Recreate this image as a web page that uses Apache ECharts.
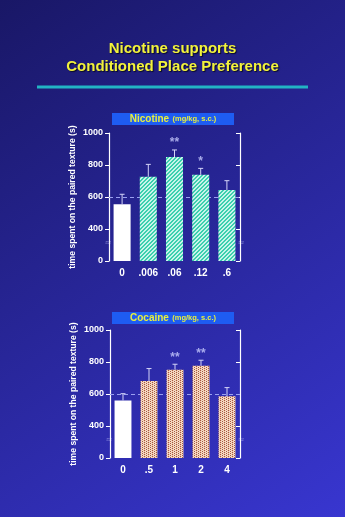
<!DOCTYPE html>
<html><head><meta charset="utf-8">
<script src="https://cdn.jsdelivr.net/npm/echarts@6/dist/echarts.min.js"></script>
<style>html,body{margin:0;padding:0;width:345px;height:517px;overflow:hidden}#c{width:345px;height:517px}</style>
</head><body><div id="c"></div>
<script>
// ---- data ----
const nicDoses = ['0', '.006', '.06', '.12', '.6'];
const nicMeans = [554, 727, 850, 739, 644];
const nicErrTop = [617, 804, 894, 779, 702];
const nicStars = ['', '', '**', '*', ''];
const cocDoses = ['0', '.5', '1', '2', '4'];
const cocMeans = [560, 681, 752, 777, 586];
const cocErrTop = [602, 759, 786, 811, 640];
const cocStars = ['', '', '**', '**', ''];
const yTickLabels = ['0', '400', '600', '800', '1000'];
const chanceLevel = 600;

// broken axis: 0..400 compressed into one tick step
function f(v) { return v >= 400 ? v : 200 + v / 2; }
function inv(v) { return v < 400 ? (v - 200) * 2 : v; }

function makePattern(kind) {
  const c = document.createElement('canvas');
  const n = 4; c.width = n; c.height = n;
  const ctx = c.getContext('2d');
  for (let x = 0; x < n; x++) for (let y = 0; y < n; y++) {
    let col;
    if (kind === 'hatch') col = ((x + y) % 4 < 2) ? '#3ccfae' : '#c8f4ea';
    else col = ((x % 2 === 0) && ((y + (x % 4 === 0 ? 0 : 1)) % 2 === 0)) ? '#a8563e' : ((x + y) % 2 === 0 ? '#f6e0cc' : '#eec8ae');
    ctx.fillStyle = col; ctx.fillRect(x, y, 1, 1);
  }
  return { image: c, repeat: 'repeat' };
}

const chart = echarts.init(document.getElementById('c'), null, { renderer: 'canvas' });

const grids = [
  { left: 109, top: 133, width: 131, height: 128 },
  { left: 110, top: 330, width: 130, height: 128 }
];
const panels = [
  { doses: nicDoses, means: nicMeans, err: nicErrTop, stars: nicStars, pat: makePattern('hatch'), title: 'Nicotine', boxY: 113 },
  { doses: cocDoses, means: cocMeans, err: cocErrTop, stars: cocStars, pat: makePattern('dots'), title: 'Cocaine', boxY: 312 }
];

const xAxis = [], yAxis = [], series = [];
const axisCol = '#ffffff';
panels.forEach((p, i) => {
  xAxis.push({
    type: 'category', gridIndex: i, data: p.doses,
    axisLine: { show: false }, axisTick: { show: false },
    axisLabel: { color: '#ffffff', fontWeight: 'bold', fontSize: 10, margin: 7, fontFamily: 'Liberation Sans, Arial' }
  });
  yAxis.push({
    type: 'value', gridIndex: i, min: f(0), max: 1000, interval: 200,
    name: 'time spent on the paired texture (s)', nameLocation: 'middle', nameGap: 32,
    nameTextStyle: { color: '#ffffff', fontWeight: 'bold', fontSize: 8.6, fontFamily: 'Liberation Sans, Arial' },
    axisLine: { show: true, lineStyle: { color: axisCol, width: 1.2 } },
    axisTick: { show: true, length: 4, lineStyle: { color: axisCol } },
    splitLine: { show: false },
    axisLabel: {
      color: '#ffffff', fontWeight: 'bold', fontSize: 9, margin: 6, fontFamily: 'Liberation Sans, Arial',
      formatter: v => yTickLabels[[0, 400, 600, 800, 1000].indexOf(inv(v))] || ''
    }
  });
  yAxis.push({
    type: 'value', gridIndex: i, min: f(0), max: 1000, interval: 200, position: 'right',
    axisLine: { show: true, lineStyle: { color: axisCol, width: 1.2 } },
    axisTick: { show: true, inside: true, length: 4, lineStyle: { color: axisCol } },
    splitLine: { show: false }, axisLabel: { show: false }
  });
  series.push({
    type: 'line', xAxisIndex: i, yAxisIndex: 2 * i, data: [], z: 1,
    markLine: {
      silent: true, symbol: 'none', label: { show: false }, z: 1,
      lineStyle: { color: '#9aa0f0', type: [4, 3], width: 1 },
      data: [{ yAxis: f(chanceLevel) }]
    }
  });
  series.push({
    type: 'bar', xAxisIndex: i, yAxisIndex: 2 * i, barWidth: '65%',
    data: p.means.map((m, k) => k === 0 ? { value: f(m), itemStyle: { color: '#ffffff' } } : { value: f(m) }),
    itemStyle: { color: p.pat },
    z: 2
  });
  series.push({
    type: 'custom', xAxisIndex: i, yAxisIndex: 2 * i,
    data: p.means.map((m, k) => [k, f(p.err[k]), f(m)]),
    renderItem: (params, api) => {
      const top = api.coord([api.value(0), api.value(1)]);
      const base = api.coord([api.value(0), api.value(2)]);
      const st = { stroke: '#d4d4f8', lineWidth: 1 };
      return { type: 'group', children: [
        { type: 'line', shape: { x1: top[0], y1: base[1], x2: top[0], y2: top[1] }, style: st },
        { type: 'line', shape: { x1: top[0] - 2.5, y1: top[1], x2: top[0] + 2.5, y2: top[1] }, style: st }
      ] };
    },
    z: 3
  });
  series.push({
    type: 'scatter', xAxisIndex: i, yAxisIndex: 2 * i, symbolSize: 0,
    data: p.err.map((e, k) => [k, f(e)]),
    label: {
      show: true, position: 'top', distance: 1, color: '#c8ccff', fontSize: 12, fontWeight: 'bold',
      fontFamily: 'Liberation Sans, Arial',
      formatter: prm => p.stars[prm.dataIndex]
    },
    z: 4
  });
});

const textShadow = { textShadowColor: 'rgba(0,0,0,0.7)', textShadowOffsetX: 1, textShadowOffsetY: 1, textShadowBlur: 1 };
const graphic = [
  { type: 'text', left: 'center', top: 41, style: Object.assign({ text: 'Nicotine supports', fill: '#f2f23c', font: 'bold 15px Liberation Sans, Arial' }, textShadow) },
  { type: 'text', left: 'center', top: 59, style: Object.assign({ text: 'Conditioned Place Preference', fill: '#f2f23c', font: 'bold 15px Liberation Sans, Arial' }, textShadow) },
  { type: 'line', shape: { x1: 37, y1: 87, x2: 308, y2: 87 }, style: { stroke: '#22b4c4', lineWidth: 3 } }
];
panels.forEach((p, i) => {
  graphic.push({ type: 'rect', shape: { x: 112, y: p.boxY, width: 122, height: 12 }, style: { fill: '#1e5cf2' } });
  graphic.push({
    type: 'text', x: 173, y: p.boxY + 6,
    style: {
      text: '{a|' + p.title + '} {b|(mg/kg, s.c.)}', align: 'center', verticalAlign: 'middle',
      rich: {
        a: { fill: '#e8f03c', font: 'bold 10px Liberation Sans, Arial' },
        b: { fill: '#e8f03c', font: 'bold 7.5px Liberation Sans, Arial' }
      }
    }
  });
  const g = grids[i];
  const yb = g.top + g.height * 0.86;
  graphic.push({ type: 'text', x: g.left - 1, y: yb, style: { text: '≈', fill: 'rgba(200,200,255,0.55)', font: '8px DejaVu Sans', align: 'center', verticalAlign: 'middle' } });
  graphic.push({ type: 'text', x: g.left + g.width + 1, y: yb, style: { text: '≈', fill: 'rgba(200,200,255,0.55)', font: '8px DejaVu Sans', align: 'center', verticalAlign: 'middle' } });
});

chart.setOption({
  animation: false,
  backgroundColor: { type: 'linear', x: 0, y: 0, x2: 1, y2: 1, colorStops: [{ offset: 0, color: '#191766' }, { offset: 1, color: '#3836d0' }] },
  grid: grids, xAxis, yAxis, series, graphic
});
</script></body></html>
